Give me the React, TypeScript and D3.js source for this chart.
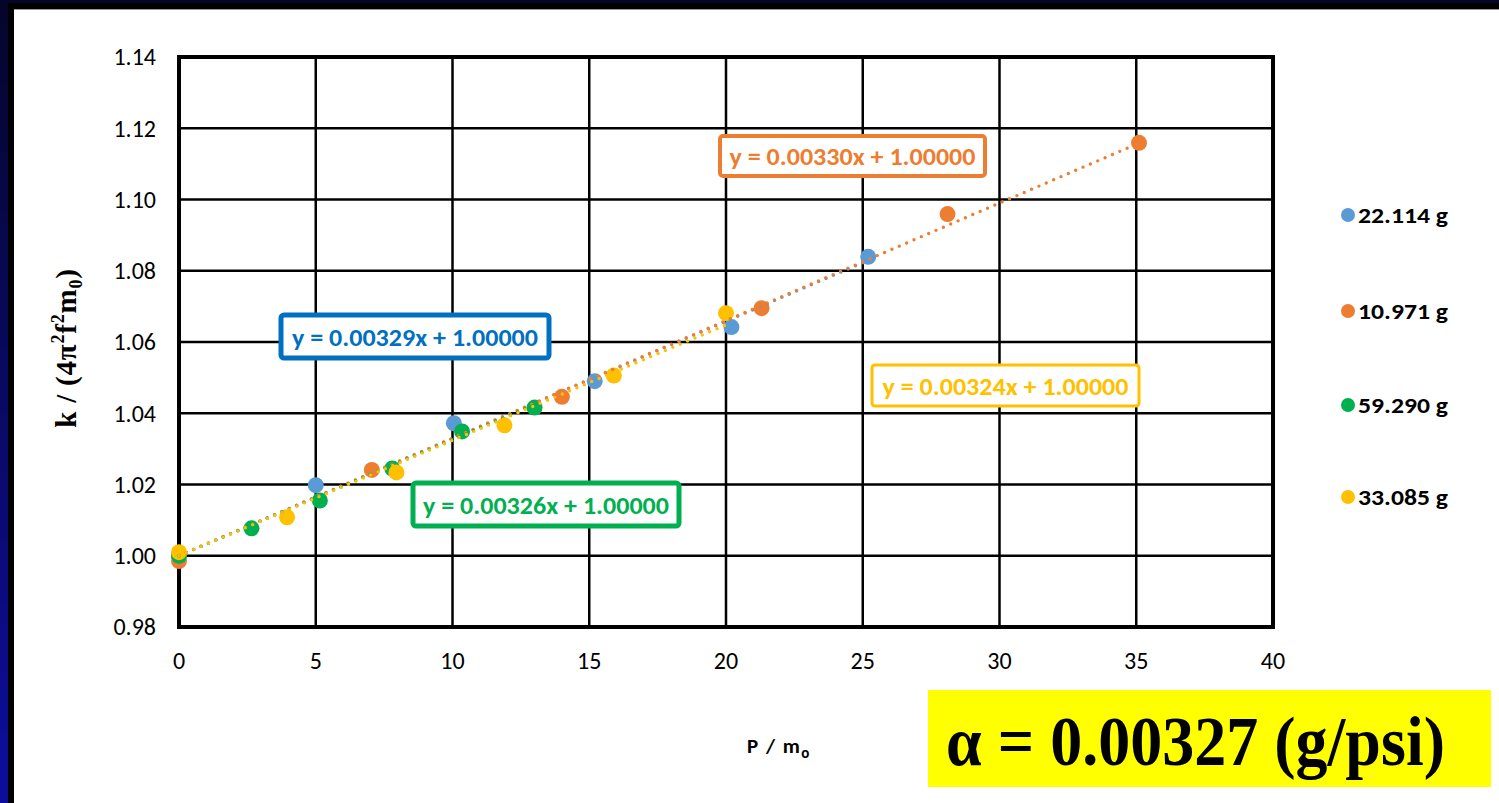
import React from "react";
import { scaleLinear, range } from "d3";

// series: x = P / m0, y = k / (4π²f²m0)
const blueX = [0, 5.0, 10.05, 15.2, 20.2, 25.2];
const blueY = [1.0, 1.0198, 1.0372, 1.049, 1.0642, 1.0839];
const orangeX = [0, 7.05, 14.0, 21.3, 28.1, 35.1];
const orangeY = [0.9985, 1.0241, 1.0446, 1.0695, 1.0959, 1.1159];
const greenX = [0, 2.65, 5.15, 7.8, 10.35, 13.0];
const greenY = [1.0, 1.0077, 1.0155, 1.0245, 1.0349, 1.0416];
const yellowX = [0, 3.95, 7.95, 11.9, 15.9, 20.0];
const yellowY = [1.001, 1.0108, 1.0234, 1.0366, 1.0506, 1.0681];

const legendLabels = ["22.114 g", "10.971 g", "59.290 g", "33.085 g"];
const slopes = [0.00329, 0.0033, 0.00326, 0.00324];
const xTicks = range(0, 41, 5);
const yTicks = range(0, 9).map((i) => 0.98 + i * 0.02);

const colors = ["#5B9BD5", "#ED7D31", "#00B050", "#FFC000"];
const boxColors = ["#0070C0", "#ED7D31", "#00B050", "#FFC000"];

const series = [
  { xs: blueX, ys: blueY },
  { xs: orangeX, ys: orangeY },
  { xs: greenX, ys: greenY },
  { xs: yellowX, ys: yellowY },
];

// equation label boxes, px
const boxes = [
  { s: 0, x: 281, y: 315, w: 268, h: 43, bw: 5 },
  { s: 1, x: 720, y: 136, w: 265, h: 40, bw: 4 },
  { s: 2, x: 413, y: 483, w: 266, h: 43, bw: 5 },
  { s: 3, x: 872, y: 365, w: 267, h: 41, bw: 3 },
];

const legendY = [215, 311, 405, 497];

const sans = "Carlito, Lato, 'Open Sans', sans-serif";

const App = () => {
  const W = 1499;
  const H = 803;
  const x = scaleLinear().domain([0, 40]).range([179, 1273]);
  const y = scaleLinear().domain([0.98, 1.14]).range([627, 57]);

  return (
    <svg width={W} height={H} style={{ position: "fixed", left: 0, top: 0 }}>
      <defs>
        <linearGradient id="frame" x1="0" y1="0" x2="0" y2="1">
          <stop offset="0" stopColor="#05052a" />
          <stop offset="1" stopColor="#0d0d9e" />
        </linearGradient>
      </defs>
      <rect x={0} y={0} width={W} height={H} fill="url(#frame)" />
      <rect x={8} y={3} width={W - 8} height={H - 3} fill="#000" />
      <rect x={14} y={9} width={W - 14} height={H - 9} fill="#fff" />
      <line x1={14} x2={W} y1={9.5} y2={9.5} stroke="#999" strokeWidth={1} />

      {/* grid */}
      {yTicks.map((t) => (
        <line
          key={"gy" + t}
          x1={x(0)}
          x2={x(40)}
          y1={y(t)}
          y2={y(t)}
          stroke="#000"
          strokeWidth={2.5}
        />
      ))}
      {xTicks.map((t) => (
        <line
          key={"gx" + t}
          x1={x(t)}
          x2={x(t)}
          y1={y(0.98)}
          y2={y(1.14)}
          stroke="#000"
          strokeWidth={2.5}
        />
      ))}
      <rect
        x={x(0)}
        y={y(1.14)}
        width={x(40) - x(0)}
        height={y(0.98) - y(1.14)}
        fill="none"
        stroke="#000"
        strokeWidth={4}
      />

      {/* tick labels */}
      {yTicks.map((t) => (
        <text
          key={"ly" + t}
          x={156}
          y={y(t)}
          dy="0.35em"
          textAnchor="end"
          fontFamily={sans}
          fontSize={24}
          fill="#000"
        >
          {t.toFixed(2)}
        </text>
      ))}
      {xTicks.map((t) => (
        <text
          key={"lx" + t}
          x={x(t)}
          y={669}
          textAnchor="middle"
          fontFamily={sans}
          fontSize={24}
          fill="#000"
        >
          {t}
        </text>
      ))}

      {/* axis titles */}
      <text
        transform={`translate(76,348) rotate(-90)`}
        textAnchor="middle"
        fontFamily="'Liberation Serif', 'DejaVu Serif', serif"
        fontWeight="bold"
        fontSize={29}
        letterSpacing={0.8}
        fill="#000"
      >
        k / (4π<tspan fontSize={18} dy={-12}>2</tspan>
        <tspan dy={12}>f</tspan>
        <tspan fontSize={18} dy={-12}>2</tspan>
        <tspan dy={12}>m</tspan>
        <tspan fontSize={18} dy={6}>0</tspan>
        <tspan dy={-6}>)</tspan>
      </text>
      <text
        x={779}
        y={753}
        textAnchor="middle"
        fontFamily={sans}
        fontWeight="bold"
        fontSize={21}
        letterSpacing={1.5}
        fill="#000"
      >
        P / m<tspan fontSize={15} dy={5}>o</tspan>
      </text>

      {/* markers */}
      {series.map((s, i) =>
        s.xs.map((v, j) => (
          <circle
            key={`m${i}-${j}`}
            cx={x(v)}
            cy={y(s.ys[j])}
            r={8}
            fill={colors[i]}
          />
        ))
      )}

      {/* dotted linear trendlines */}
      {series.map((s, i) => {
        const xMax = s.xs[s.xs.length - 1];
        return (
          <line
            key={"t" + i}
            x1={x(0)}
            y1={y(1)}
            x2={x(xMax)}
            y2={y(1 + slopes[i] * xMax)}
            stroke={colors[i]}
            strokeWidth={3.4}
            strokeLinecap="round"
            strokeDasharray="0 8"
          />
        );
      })}

      {/* equation boxes */}
      {boxes.map((b) => (
        <g key={"b" + b.s}>
          <rect
            x={b.x}
            y={b.y}
            width={b.w}
            height={b.h}
            rx={3}
            fill="#fff"
            stroke={boxColors[b.s]}
            strokeWidth={b.bw}
          />
          <text
            x={b.x + b.w / 2}
            y={b.y + b.h / 2}
            dy="0.36em"
            textAnchor="middle"
            fontFamily={sans}
            fontWeight="bold"
            fontSize={25}
            textLength={246}
            lengthAdjust="spacingAndGlyphs"
            fill={boxColors[b.s]}
          >
            {`y = ${slopes[b.s].toFixed(5)}x + 1.00000`}
          </text>
        </g>
      ))}

      {/* legend */}
      {legendLabels.map((l, i) => (
        <g key={"lg" + i}>
          <circle cx={1348} cy={legendY[i]} r={7} fill={colors[i]} />
          <text
            x={1358}
            y={legendY[i]}
            dy="0.36em"
            fontFamily={sans}
            fontWeight="bold"
            fontSize={23}
            textLength={90}
            lengthAdjust="spacingAndGlyphs"
            fill="#000"
          >
            {l}
          </text>
        </g>
      ))}

      {/* alpha result box */}
      <rect x={928} y={690} width={563} height={97} fill="#FFFF00" />
      <text
        x={946}
        y={765}
        fontFamily="'Liberation Serif', 'Times New Roman', serif"
        fontWeight="bold"
        fontSize={70}
        textLength={499}
        lengthAdjust="spacingAndGlyphs"
        fill="#000"
      >
        α = 0.00327 (g/psi)
      </text>
    </svg>
  );
};

export default App;
